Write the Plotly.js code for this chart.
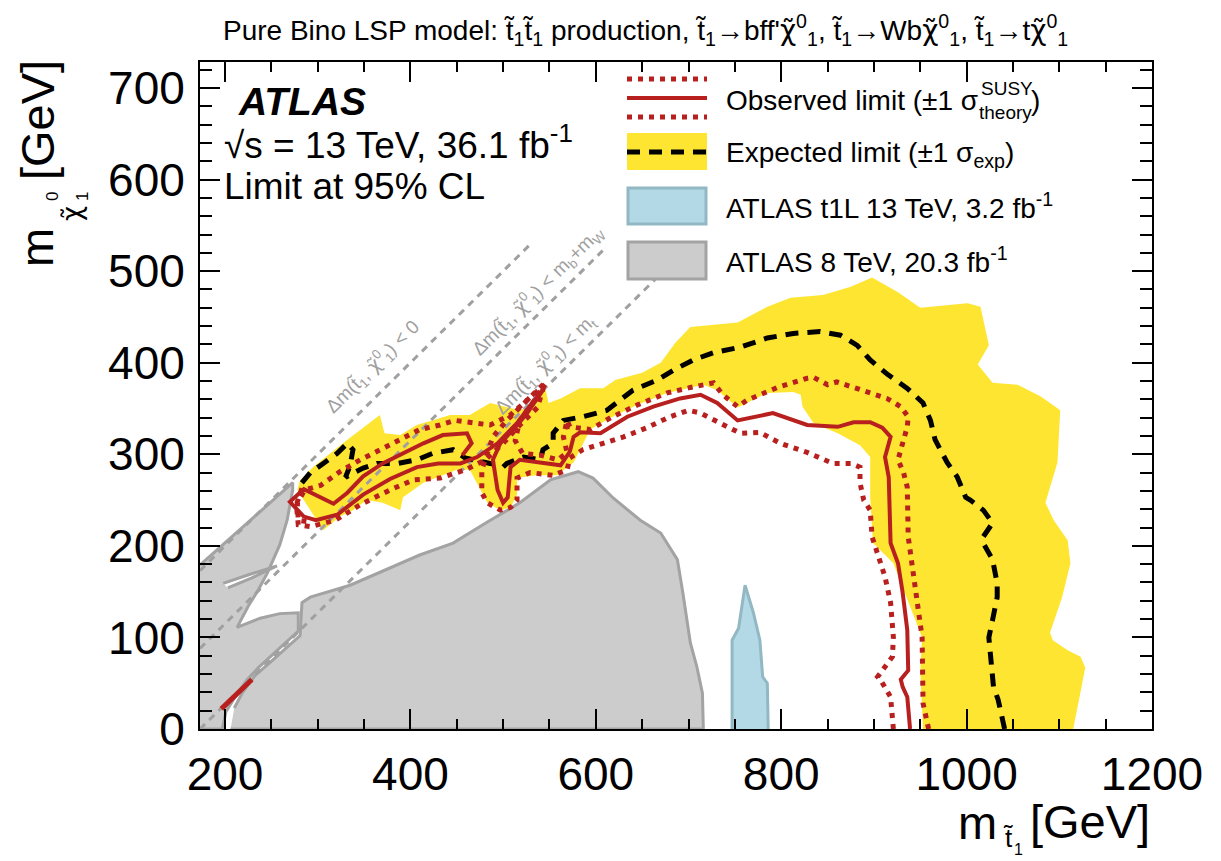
<!DOCTYPE html>
<html>
<head>
<meta charset="utf-8">
<script src="https://cdn.plot.ly/plotly-3.0.1.min.js"></script>
<style>html,body{margin:0;padding:0;background:#fff;}</style>
</head>
<body>
<div id="chart" style="width:1221px;height:861px;"></div>
<script>
// ---------------- data (GeV) ----------------
// expected limit +1 sigma (outer edge of yellow band)
const expUpX = [1115,1128,1123,1109,1093,1090,1103,1112,1109,1094,1085,1098,1101,1080,1055,1028,1012,1024,1015,1001,950,926,898,875,845,810,785,753,702,686,670,650,621,608,583,562,549,545,535,518,486,464,443,407,389,372,367,332,295,281,278];
const expUpY = [0,67,79,86,97,105,144,181,206,228,247,291,348,363,376,378,398,419,461,465,460,477,493,483,474,471,461,444,439,422,400,389,381,372,372,361,356,375,354,348,356,343,343,332,321,323,343,316,286,272,261];
// expected limit -1 sigma (inner edge of yellow band)
const expDnX = [306,324,338,353,370,389,392,414,435,450,464,477,483,497,508,515,515,535,558,576,594,616,645,677,702,716,731,753,785,813,821,823,835,861,885,896,896,899,921,932,943,952,950,953];
const expDnY = [217,232,239,250,247,239,253,269,277,283,283,258,247,239,242,256,274,277,277,291,327,340,354,367,373,376,370,351,367,368,365,352,334,323,310,297,253,203,181,152,122,100,64,0];
// expected limit (central)
const expX = [1041,1034,1029,1026,1024,1028,1033,1033,1028,1018,1018,1028,1018,1004,999,990,979,966,961,953,936,915,896,882,864,842,813,785,756,727,705,684,666,640,612,586,565,554,554,543,540,522,504,500,486,459,446,424,407,386,364,349,330,335,338,332,321,306,292,279];
const expY = [0,32,46,79,100,119,144,159,185,203,210,225,239,250,253,275,291,316,337,356,372,387,403,419,430,434,432,427,417,411,403,392,381,370,348,341,337,323,312,305,294,297,290,286,290,296,305,301,294,290,290,285,275,288,305,312,301,290,280,264];
// observed limit (central)
const obsX = [939,936,931,929,937,936,931,926,918,916,912,918,909,896,878,861,828,791,753,731,713,691,662,634,605,583,576,572,562,537,518,508,505,500,494,489,497,511,526,543,532,515,494,472,454,430,407,378,349,321,298,285,270,285,317,332,349,370,392,414,435,461,466,456];
const obsY = [0,35,46,54,64,108,149,181,203,275,297,319,329,335,335,330,332,345,337,356,365,361,352,341,323,324,319,303,288,292,294,286,253,247,261,294,312,327,345,370,357,334,312,297,290,290,286,273,256,234,228,232,248,262,246,258,276,290,301,312,321,323,312,299];
// observed limit -1 sigma theory
const obsDnX = [921,918,907,904,920,921,918,912,905,898,896,889,885,885,875,856,828,799,777,756,742,713,700,680,655,630,608,586,572,569,554,529,515,515,508,497,483,477,477,489,504,529,545,537,518,500,481,459,432,403,378,346,319,292,279,277,284];
const obsDnY = [0,35,54,57,79,100,138,166,188,210,239,250,269,286,290,290,302,312,324,323,330,345,348,341,329,319,312,305,296,283,277,280,274,250,242,239,247,258,283,319,337,363,378,351,332,312,294,283,274,272,261,245,228,221,223,245,266];
// observed limit +1 sigma theory
const obsUpX = [959,953,952,947,941,937,936,932,926,931,936,937,929,914,893,871,860,850,835,828,796,763,753,737,727,702,677,645,616,594,572,569,565,569,559,540,521,513,518,534,545,529,508,486,468,448,432,410,389,367,346,324,303,286,278,279,292];
const obsUpY = [0,28,100,138,174,210,264,280,294,312,330,341,352,361,368,376,379,376,384,383,373,359,352,365,378,373,367,354,340,327,330,337,319,302,294,299,301,315,337,359,376,362,343,332,334,337,332,327,316,305,294,281,266,261,247,228,226];
// small observed piece near the diagonal
const obsSmallX = [196,212,229];
const obsSmallY = [22,38,54];
// ATLAS 8 TeV, 20.3 fb-1 excluded regions
const run1MainX = [206,716,715,709,702,699,694,688,670,648,619,597,581,551,518,483,446,410,378,335,292,283,281,265,249,232,219,210];
const run1MainY = [0,0,39,68,94,116,148,185,214,228,252,274,281,272,247,226,203,190,176,157,144,138,102,88,73,58,40,23];
const run1LeftX = [173,197,201,212,224,236,251,268,279,279,259,238,213,225,236,246,259,267,273,273,173];
const run1LeftY = [0,0,19,37,54,67,81,97,107,127,126,121,111,134,152,171,201,228,261,269,179];
const run1GapX = [198,227,256,229,203];
const run1GapY = [159,169,178,165,154];
// ATLAS t1L 13 TeV, 3.2 fb-1
const t1lX = [747,747,754,761,770,777,780,785,786];
const t1lY = [0,97,110,157,127,97,57,50,0];
// kinematic boundaries
const kinZeroX = [173,531], kinZeroY = [173,531];
const kinWX = [173,610], kinWY = [88,525];
const kinTX = [173,664], kinTY = [0,491];
// axis ticks
const xTicks = [200,400,600,800,1000,1200];
const yTicks = [0,100,200,300,400,500,600,700];

// ---------------- styles ----------------
const RED = '#b8201f', YEL = '#fee531', GRAYF = '#cccccc', GRAYL = '#a3a3a3';
const BLUEF = '#b2d9e5', BLUEL = '#92b8c3', DIAG = '#a0a0a0';

const bandX = expUpX.concat(expDnX), bandY = expUpY.concat(expDnY);
const poly = (x, y, fill, lc) => ({x:x, y:y, mode:'lines', fill:'toself', fillcolor:fill, line:{width:3, color:lc}, hoverinfo:'skip'});
const traces = [
  {x: bandX, y: bandY, mode:'lines', fill:'toself', fillcolor:YEL, line:{width:0, color:YEL}, hoverinfo:'skip'},
  poly(run1MainX, run1MainY, GRAYF, GRAYL),
  poly(run1LeftX, run1LeftY, GRAYF, GRAYL),
  poly(run1GapX, run1GapY, 'white', GRAYL),
  poly(t1lX, t1lY, BLUEF, BLUEL),
  {x: kinZeroX, y: kinZeroY, mode:'lines', line:{width:3, color:DIAG, dash:'7px,6px'}},
  {x: kinWX, y: kinWY, mode:'lines', line:{width:3, color:DIAG, dash:'7px,6px'}},
  {x: kinTX, y: kinTY, mode:'lines', line:{width:3, color:DIAG, dash:'7px,6px'}},
  {x: expX, y: expY, mode:'lines', line:{width:5, color:'black', dash:'13px,9px'}},
  {x: obsUpX, y: obsUpY, mode:'lines', line:{width:5, color:RED, dash:'5px,6px'}},
  {x: obsDnX, y: obsDnY, mode:'lines', line:{width:5, color:RED, dash:'5px,6px'}},
  {x: obsX, y: obsY, mode:'lines', line:{width:4, color:RED}},
  {x: obsSmallX, y: obsSmallY, mode:'lines', line:{width:5, color:RED}}
];

// pixel -> paper helpers for decorations (plot area 200..1152 x 62..729)
const L0 = 200, R0 = 1152, T0 = 62, B0 = 729;
const px = v => (v - L0) / (R0 - L0);
const py = v => (B0 - v) / (B0 - T0);
const FONT = 'Liberation Sans, Arial, Helvetica, sans-serif';

function ann(text, x, y, size, opts) {
  return Object.assign({text:text, x:px(x), y:py(y), xref:'paper', yref:'paper', showarrow:false,
    xanchor:'left', yanchor:'middle', font:{family:FONT, size:size, color:'black'}}, opts || {});
}
const tt = 't\u0303';
const chi = '<span style="font-family:DejaVu Sans">\u03c7\u0303</span>';
const chiA = '\u03c7\u0303';
const dm = '\u0394m(' + tt + '<sub>1</sub>, ' + chi + '<sup>0</sup><sub>1</sub>) &lt; ';
function diagAnn(text, x, y) {
  return {text:text, x:x, y:y, xref:'x', yref:'y', showarrow:false, textangle:-44.7,
    xanchor:'center', yanchor:'middle', font:{family:FONT, size:19, color:DIAG}};
}

const annotations = [
  ann('Pure Bino LSP model: ' + tt + '<sub>1</sub>' + tt + '<sub>1</sub> production, ' + tt + '<sub>1</sub>\u2192bff\'' + chi + '<sup>0</sup><sub>1</sub>, ' + tt + '<sub>1</sub>\u2192Wb' + chi + '<sup>0</sup><sub>1</sub>, ' + tt + '<sub>1</sub>\u2192t' + chi + '<sup>0</sup><sub>1</sub>', 645, 30, 28, {xanchor:'center'}),
  ann('<b><i>ATLAS</i></b>', 236, 101, 39),
  ann('\u221as = 13 TeV, 36.1 fb<sup>-1</sup>', 222, 142, 37),
  ann('Limit at 95% CL', 222, 186, 37),
  ann('Observed limit (\u00b11 \u03c3', 724, 100, 28),
  ann('SUSY', 979, 88, 19),
  ann('theory', 977, 113, 19),
  ann(')', 1029, 100, 28),
  ann('Expected limit (\u00b11 \u03c3<sub>exp</sub>)', 724, 154, 28),
  ann('ATLAS t1L 13 TeV, 3.2 fb<sup>-1</sup>', 724, 206, 28),
  ann('ATLAS 8 TeV, 20.3 fb<sup>-1</sup>', 724, 260, 28),
  diagAnn(dm + '0', 359, 396),
  diagAnn(dm + 'm<sub>b</sub>+m<sub>W</sub>', 537, 479),
  diagAnn(dm + 'm<sub>t</sub>', 545, 398),
  // x axis title
  ann('[GeV]', 1152, 821, 47, {xanchor:'right'}),
  ann('m', 999, 822, 47, {xanchor:'right'}),
  ann(tt, 1008, 838, 26, {xanchor:'center'}),
  ann('1', 1018, 849, 16, {xanchor:'center'}),
  // y axis title
  ann('[GeV]', 37, 120, 47, {xanchor:'center', textangle:-90}),
  ann('m', 37, 248, 47, {xanchor:'center', textangle:-90}),
  ann(chiA, 72, 214, 27, {xanchor:'center', textangle:-90, font:{family:'DejaVu Sans, sans-serif', size:26, color:'black'}}),
  ann('0', 52, 197, 17, {xanchor:'center', textangle:-90}),
  ann('1', 82, 197, 17, {xanchor:'center', textangle:-90})
];

function hline(x0, x1, y, color, width, dash) {
  return {type:'line', xref:'paper', yref:'paper', x0:px(x0), x1:px(x1), y0:py(y), y1:py(y),
    line:{color:color, width:width, dash:dash || 'solid'}};
}
function rect(x0, y0, x1, y1, fill, lc, lw) {
  return {type:'rect', xref:'paper', yref:'paper', x0:px(x0), x1:px(x1), y0:py(y0), y1:py(y1),
    fillcolor:fill, line:{color:lc, width:lw}};
}
const shapes = [
  hline(627, 707, 79, RED, 5, '5px,6px'),
  hline(627, 707, 98, RED, 4),
  hline(627, 707, 117, RED, 5, '5px,6px'),
  rect(627, 133, 707, 170, YEL, YEL, 0),
  hline(627, 707, 152, 'black', 5, '13px,9px'),
  rect(628, 188, 706, 224, BLUEF, BLUEL, 3),
  rect(628, 242, 706, 279, GRAYF, GRAYL, 3)
];

const axisCommon = {
  ticks:'inside', tickcolor:'black', tickwidth:2, showline:true, linecolor:'black', linewidth:2,
  mirror:'ticks', showgrid:false, zeroline:false, tickfont:{family:FONT, size:46, color:'black'}
};
const layout = {
  width:1221, height:861,
  margin:{l:L0, r:1221-R0, t:T0, b:861-B0, pad:0},
  paper_bgcolor:'white', plot_bgcolor:'white', showlegend:false,
  font:{family:FONT, color:'black'},
  xaxis: Object.assign({}, axisCommon, {range:[173,1200], tickmode:'array', tickvals:xTicks,
    ticktext:xTicks.map(String), ticklen:20, ticklabelstandoff:4,
    minor:{dtick:50, tick0:0, ticks:'inside', ticklen:10, tickwidth:2, tickcolor:'black', showgrid:false}}),
  yaxis: Object.assign({}, axisCommon, {range:[0,728.4], tickmode:'array', tickvals:yTicks,
    ticktext:yTicks.map(String), ticklen:20, ticklabelstandoff:4,
    minor:{dtick:20, tick0:0, ticks:'inside', ticklen:12, tickwidth:2, tickcolor:'black', showgrid:false}}),
  annotations: annotations,
  shapes: shapes
};
Plotly.newPlot('chart', traces, layout, {displayModeBar:false, staticPlot:true});
</script>
</body>
</html>
